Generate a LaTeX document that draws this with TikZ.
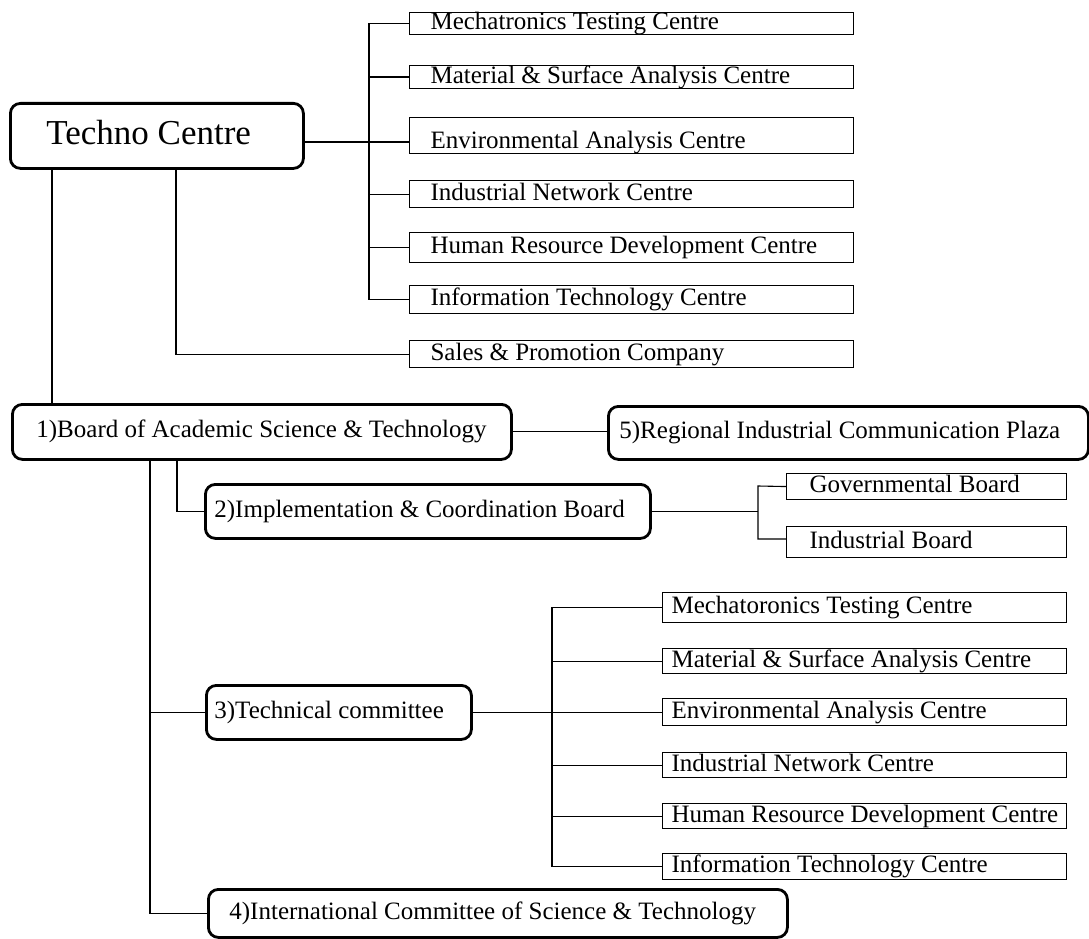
\documentclass[tikz,border=0pt]{standalone}
\usepackage{fontspec}
\setmainfont{Liberation Serif}
\usetikzlibrary{calc}
% fixed-width, left-aligned label: width, left padding, text
\newcommand\boxtext[3]{\makebox[#1pt][l]{\hspace*{#2pt}#3}}
\begin{document}
\begin{tikzpicture}[x=1pt,y=-1pt,
  base/.style={anchor=north west, inner xsep=0pt, inner ysep=0pt,
    text height=17pt, text depth=5pt, font=\fontsize{25}{30}\selectfont},
  board/.style={base, draw, line width=2.8pt, rounded corners=10pt},
  unit/.style={base, draw, line width=1.1pt},
  link/.style={line width=1.1pt}]
\useasboundingbox[fill=white] (0,0) rectangle (1089,939);

% ---- Techno Centre and its units
\node[board, minimum height=65pt, text height=24pt, text depth=7pt,
      font=\fontsize{35}{42}\selectfont] (tc) at (9,102)
  {\boxtext{293}{36}{Techno Centre}};

\node[unit, minimum height=21pt] (t1) at (409,12)  {\boxtext{444}{21}{Mechatronics Testing Centre}};
\node[unit, minimum height=23pt] (t2) at (409,65)  {\boxtext{444}{21}{Material \& Surface Analysis Centre}};
\node[unit, minimum height=36pt, text height=29pt, text depth=3pt] (t3) at (409,117) {\boxtext{444}{21}{Environmental Analysis Centre}};
\node[unit, minimum height=27pt] (t4) at (409,180) {\boxtext{444}{21}{Industrial Network Centre}};
\node[unit, minimum height=30pt] (t5) at (409,232) {\boxtext{444}{21}{Human Resource Development Centre}};
\node[unit, minimum height=28pt] (t6) at (409,285) {\boxtext{444}{21}{Information Technology Centre}};
\node[unit, minimum height=27pt] (t7) at (409,340) {\boxtext{444}{21}{Sales \& Promotion Company}};

% ---- Boards and committees
\node[board, minimum height=55pt] (b1) at (11,403)  {\boxtext{499}{24}{1)Board of Academic Science \& Technology}};
\node[board, minimum height=53pt] (b5) at (607,405) {\boxtext{480}{11}{5)Regional Industrial Communication Plaza}};
\node[board, minimum height=54pt] (b2) at (204,483) {\boxtext{445}{9}{2)Implementation \& Coordination Board}};
\node[unit, minimum height=26pt] (g1) at (786,473) {\boxtext{280}{23}{Governmental Board}};
\node[unit, minimum height=31pt] (g2) at (786,526) {\boxtext{280}{23}{Industrial Board}};
\node[board, minimum height=54pt] (b3) at (205,684) {\boxtext{265}{8}{3)Technical committee}};
\node[board, minimum height=48pt] (b4) at (207,888) {\boxtext{579}{21}{4)International Committee of Science \& Technology}};

% ---- Technical committee units
\begin{scope}[every node/.append style={font=\fontsize{24.5}{29}\selectfont}]
\node[unit, minimum height=30pt] (m1) at (662,592) {\boxtext{404}{9}{Mechatoronics Testing Centre}};
\node[unit, minimum height=25pt] (m2) at (662,648) {\boxtext{404}{9}{Material \& Surface Analysis Centre}};
\node[unit, minimum height=27pt] (m3) at (662,698) {\boxtext{404}{9}{Environmental Analysis Centre}};
\node[unit, minimum height=25pt] (m4) at (662,752) {\boxtext{404}{9}{Industrial Network Centre}};
\node[unit, minimum height=25pt] (m5) at (662,803) {\boxtext{404}{9}{Human Resource Development Centre}};
\node[unit, minimum height=26pt] (m6) at (662,853) {\boxtext{404}{9}{Information Technology Centre}};
\end{scope}

% ---- bus positions
\coordinate (ta) at (369,0);
\coordinate (j3) at (369,142);
\coordinate (c1) at (52,0);
\coordinate (c2) at (176,0);
\coordinate (c3) at (177,0);
\coordinate (k1) at (758,486);
\coordinate (k2) at (758,539);
\coordinate (c5) at (150,0);
\coordinate (c6) at (552,0);

% Techno Centre branches
\draw[link] (t1.west) -| (ta |- t6.west) -- (t6.west);
\draw[link] (t2.west) -- (t2.west -| ta);
\draw[link] (tc.east |- j3) -- (j3 -| t3.west);
\draw[link] (t4.west) -- (t4.west -| ta);
\draw[link] (t5.west) -- (t5.west -| ta);
\draw[link] (tc.south -| c2) |- (t7.west);
\draw[link] (tc.south -| c1) -- (b1.north -| c1);

% Board branches
\draw[link] (b1.east) -- (b1.east -| b5.west);
\draw[link] (b1.south -| c3) |- (b2.west);
\draw[link] (b2.east) -- (b2.east -| k1);
\draw[link] (g1.west) -- (k1) -- (k2) -- (k2 -| g2.west);
\draw[link] (b1.south -| c5) |- (b4.west);
\draw[link] (c5 |- b3.west) -- (b3.west);

% Technical committee branches
\draw[link] (b3.east) -- (b3.east -| m3.west);
\draw[link] (m1.west) -| (c6 |- m6.west) -- (m6.west);
\draw[link] (m2.west) -- (m2.west -| c6);
\draw[link] (m4.west) -- (m4.west -| c6);
\draw[link] (m5.west) -- (m5.west -| c6);
\end{tikzpicture}
\end{document}
